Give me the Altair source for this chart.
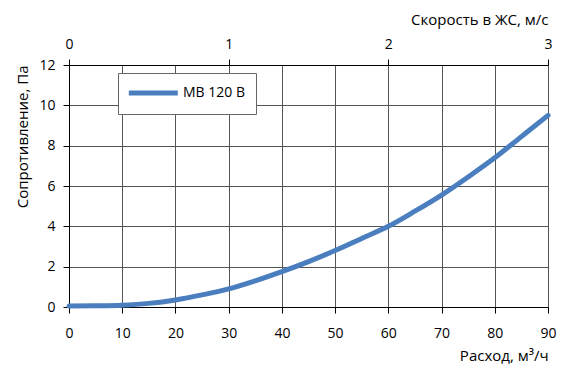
import altair as alt
import pandas as pd

flow = [0, 5, 10, 15, 20, 25, 30, 35, 40, 45, 50, 55, 60, 65, 70, 75, 80, 85, 90]
resistance = [0.05, 0.06, 0.09, 0.18, 0.35, 0.6, 0.9, 1.3, 1.75, 2.25, 2.8, 3.4, 4.0, 4.75, 5.55, 6.45, 7.4, 8.45, 9.5]
series_name = "MB 120 B"
speed_ticks = [0, 1, 2, 3]
flow_ticks = [0, 10, 20, 30, 40, 50, 60, 70, 80, 90]
res_ticks = [0, 2, 4, 6, 8, 10, 12]

FONT = "Open Sans"
BLUE = "#4A7EBF"
GRID = "#555555"

df = pd.DataFrame({"flow": flow, "res": resistance, "series": [series_name] * len(flow)})
df_speed = pd.DataFrame({"speed": speed_ticks})

line = alt.Chart(df).mark_line(strokeWidth=5, interpolate="monotone", strokeCap="round").encode(
    x=alt.X("flow:Q",
            scale=alt.Scale(domain=[0, 90], nice=False, zero=False),
            axis=alt.Axis(values=flow_ticks, title="Расход, м³/ч", orient="bottom",
                          grid=True, gridColor=GRID, gridWidth=1,
                          domainColor="black", tickColor="black", tickSize=6,
                          labelFlush=False, labelBaseline="alphabetic", labelPadding=24,
                          titleAnchor="end", titleAlign="right", titleX=479, titleY=53,
                          titleBaseline="alphabetic")),
    y=alt.Y("res:Q",
            scale=alt.Scale(domain=[0, 12], nice=False),
            axis=alt.Axis(values=res_ticks, title="Сопротивление, Па",
                          grid=True, gridColor=GRID, gridWidth=1,
                          domainColor="black", tickColor="black", tickSize=6,
                          labelPadding=8, labelFlush=False,
                          titleAnchor="end", titleAlign="right", titleAngle=270,
                          titleX=-42, titleY=0, titleBaseline="alphabetic")),
    color=alt.Color("series:N", scale=alt.Scale(range=[BLUE]),
                    legend=alt.Legend(title=None, orient="none", legendX=49, legendY=8,
                                      symbolType="M-1.5,0H6.5", symbolSize=150,
                                      symbolStrokeWidth=5, strokeColor="#666666",
                                      fillColor="white", padding=11, labelOffset=36,
                                      labelFontSize=14, labelFont=FONT, labelColor="black")),
)

top = alt.Chart(df_speed).mark_point(opacity=0).encode(
    x=alt.X("speed:Q",
            scale=alt.Scale(domain=[0, 3], nice=False, zero=False),
            axis=alt.Axis(values=speed_ticks, title="Скорость в ЖС, м/с", orient="top",
                          grid=False, domainColor="black", tickColor="black", tickSize=6,
                          labelFlush=False, labelBaseline="alphabetic", labelPadding=11,
                          titleAnchor="end", titleAlign="right", titleX=479, titleY=-41,
                          titleBaseline="alphabetic")),
)

chart = alt.layer(line, top).resolve_scale(x="independent").properties(
    width=479, height=242,
    autosize=alt.AutoSizeParams(type="none"),
    padding={"left": 61, "top": 57, "right": 10, "bottom": 58},
).configure_view(stroke=None).configure_axis(
    labelFont=FONT, titleFont=FONT, labelFontSize=14, titleFontSize=15,
    labelColor="black", titleColor="black", titleFontWeight="normal",
)

chart.save("out.html", embed_options={"renderer": "svg", "actions": False})
